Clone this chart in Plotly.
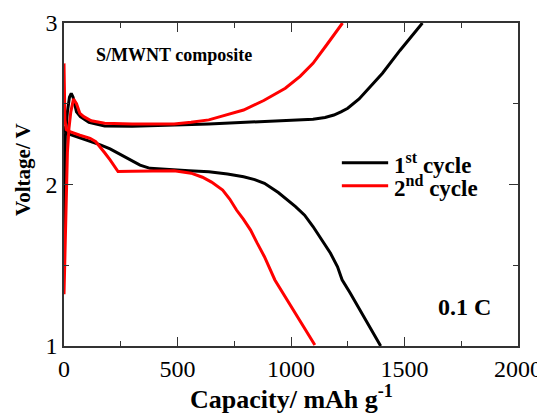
import plotly.graph_objects as go

# ---- data (capacity in mAh g-1, voltage in V) ----
cyc1_dis_cap = [0, 5, 26, 70, 115, 160, 203, 250, 291, 335, 379, 450, 550, 638, 720, 791, 840, 883, 944, 1020, 1060, 1097, 1135, 1174, 1205, 1225, 1260, 1300, 1350, 1395]
cyc1_dis_v = [2.36, 2.33, 2.31, 2.29, 2.27, 2.245, 2.22, 2.185, 2.152, 2.12, 2.10, 2.092, 2.085, 2.079, 2.065, 2.048, 2.03, 2.007, 1.95, 1.863, 1.81, 1.74, 1.66, 1.574, 1.49, 1.41, 1.33, 1.23, 1.11, 1.0]

cyc1_chg_cap = [0, 6, 15, 24, 32, 40, 55, 72, 110, 179, 300, 450, 638, 800, 950, 1097, 1150, 1189, 1220, 1250, 1300, 1350, 1403, 1480, 1579]
cyc1_chg_v = [1.6, 2.3, 2.45, 2.54, 2.565, 2.54, 2.45, 2.42, 2.385, 2.362, 2.36, 2.365, 2.375, 2.385, 2.395, 2.404, 2.415, 2.43, 2.45, 2.472, 2.53, 2.605, 2.689, 2.83, 3.0]

cyc2_dis_cap = [0, 4, 10, 26, 70, 115, 140, 159, 180, 203, 222, 238, 300, 400, 485, 560, 610, 650, 699, 730, 760, 790, 822, 850, 883, 929, 980, 1036, 1070, 1105]
cyc2_dis_v = [2.75, 2.40, 2.34, 2.327, 2.305, 2.286, 2.265, 2.234, 2.195, 2.152, 2.115, 2.08, 2.082, 2.085, 2.085, 2.07, 2.045, 2.015, 1.966, 1.91, 1.842, 1.785, 1.718, 1.64, 1.553, 1.409, 1.29, 1.161, 1.085, 1.006]

cyc2_chg_cap = [0, 8, 15, 22, 30, 42, 55, 70, 87, 120, 179, 300, 485, 560, 638, 700, 791, 880, 975, 1040, 1097, 1160, 1227]
cyc2_chg_v = [1.32, 1.9, 2.2, 2.35, 2.45, 2.53, 2.5, 2.44, 2.42, 2.395, 2.379, 2.374, 2.375, 2.385, 2.40, 2.425, 2.461, 2.52, 2.596, 2.67, 2.75, 2.87, 3.0]

series_names = ["1<sup>st</sup> cycle", "2<sup>nd</sup> cycle"]
x_ticks = [0, 500, 1000, 1500, 2000]
y_ticks = [1, 2, 3]

FONT = "Liberation Serif"
BLACK = "#000000"
RED = "#ff0000"
AXC = "#333333"

fig = go.Figure()
fig.add_trace(go.Scatter(x=cyc1_dis_cap, y=cyc1_dis_v, mode="lines",
                         line=dict(color=BLACK, width=3), name="1st discharge"))
fig.add_trace(go.Scatter(x=cyc1_chg_cap, y=cyc1_chg_v, mode="lines",
                         line=dict(color=BLACK, width=3), name="1st charge"))
fig.add_trace(go.Scatter(x=cyc2_dis_cap, y=cyc2_dis_v, mode="lines",
                         line=dict(color=RED, width=3), name="2nd discharge"))
fig.add_trace(go.Scatter(x=cyc2_chg_cap, y=cyc2_chg_v, mode="lines",
                         line=dict(color=RED, width=3), name="2nd charge"))

axis_common = dict(showline=True, linecolor=AXC, linewidth=1.5, mirror="ticks",
                   ticks="inside", ticklen=9, tickwidth=1.2, tickcolor=AXC,
                   showgrid=False, zeroline=False, automargin=False,
                   tickfont=dict(family=FONT, size=24, color=BLACK))

fig.update_xaxes(range=[0, 2000], tickvals=x_ticks,
                 minor=dict(dtick=250, ticks="inside", ticklen=5, tickcolor=AXC, tickwidth=1.2, showgrid=False),
                 **axis_common)
fig.update_yaxes(range=[1, 3], tickvals=y_ticks,
                 minor=dict(dtick=0.5, ticks="inside", ticklen=5, tickcolor=AXC, tickwidth=1.2, showgrid=False),
                 **axis_common)

# legend keys (drawn manually to match the compact spacing of the original)
legend_colors = [BLACK, RED]
legend_y = [0.5675, 0.4963]
shapes = []
annotations = []
for name, col, yy in zip(series_names, legend_colors, legend_y):
    shapes.append(dict(type="line", xref="paper", yref="paper",
                       x0=0.612, x1=0.714, y0=yy, y1=yy,
                       line=dict(color=col, width=3)))
    annotations.append(dict(text="<b>" + name + "</b>", xref="paper", yref="paper",
                            x=0.722, y=yy - 0.004, xanchor="left", yanchor="middle",
                            showarrow=False,
                            font=dict(family=FONT, size=23, color=BLACK)))

annotations += [
    dict(text="<b>Capacity/ mAh g<sup>-1</sup></b>", xref="paper", yref="paper",
         x=0.5, y=-0.158, xanchor="center", yanchor="middle", showarrow=False,
         font=dict(family=FONT, size=26, color=BLACK)),
    dict(text="<b>Voltage/ V</b>", xref="paper", yref="paper", textangle=-90,
         x=-0.0903, y=0.545, xanchor="center", yanchor="middle", showarrow=False,
         font=dict(family=FONT, size=21, color=BLACK)),
    dict(text="<b>S/MWNT composite</b>", xref="x", yref="y",
         x=132, y=2.80, xanchor="left", yanchor="middle", showarrow=False,
         font=dict(family=FONT, size=18, color=BLACK)),
    dict(text="<b>0.1 C</b>", xref="x", yref="y",
         x=1766, y=1.241, xanchor="center", yanchor="middle", showarrow=False,
         font=dict(family=FONT, size=24, color=BLACK)),
]

# the page body adds an 8 px offset, so the figure is sized to fit the window
fig.update_layout(
    width=537, height=406,
    margin=dict(l=56, r=27, t=15, b=68),
    plot_bgcolor="white", paper_bgcolor="white",
    showlegend=False,
    shapes=shapes,
    annotations=annotations,
)

fig.write_html("out.html")
